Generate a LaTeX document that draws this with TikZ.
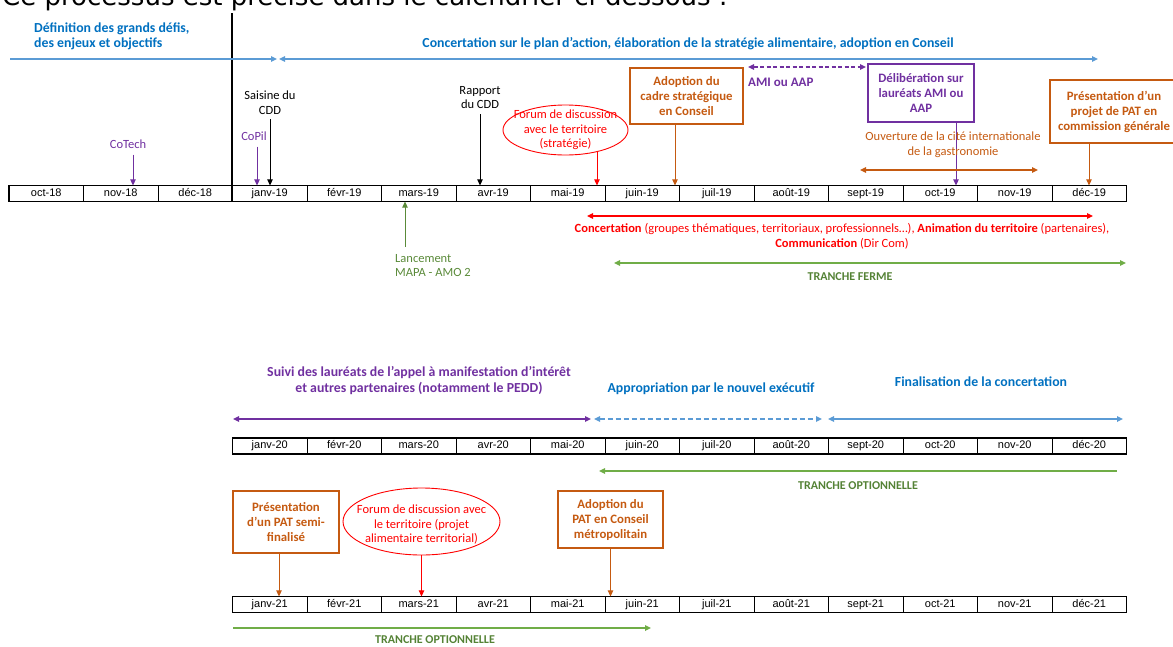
\documentclass[tikz,border=0pt]{standalone}
\usepackage{fontspec}
\setmainfont{Carlito}
\newfontfamily\arialfont{Liberation Sans}
\newfontfamily\verdanafont{DejaVu Sans}
\usetikzlibrary{arrows.meta,shapes.geometric}

\definecolor{titleblue}{RGB}{0,112,192}
\definecolor{lineblue}{RGB}{91,155,213}
\definecolor{patpurple}{RGB}{112,48,160}
\definecolor{patorange}{RGB}{197,90,17}
\definecolor{patgreen}{RGB}{112,173,71}
\definecolor{patgreentext}{RGB}{84,130,53}
\definecolor{patred}{RGB}{255,0,0}

\tikzset{
  month/.style={draw, line width=0.7pt, minimum width=74.5pt, minimum height=15.5pt,
    inner sep=0pt, text height=8pt, text depth=2.3pt, font=\arialfont\fontsize{11}{12}\selectfont},
  titletxt/.style={inner sep=0pt, align=center, text=titleblue,
    font=\bfseries\fontsize{13.8}{15.5}\selectfont},
  smalltxt/.style={inner sep=1pt, align=center, font=\fontsize{12.5}{14.5}\selectfont},
  tranche/.style={inner sep=0pt, text=patgreentext, font=\bfseries\fontsize{12}{13}\selectfont},
  stepbox/.style={draw, line width=1.4pt, inner sep=0pt, align=center,
    font=\bfseries\fontsize{12.8}{15}\selectfont},
  forum/.style={draw=patred, line width=0.9pt, ellipse, inner sep=0pt},
  eventarrow/.style={line width=0.9pt, ->},
  period/.style={line width=1.5pt},
}

\begin{document}
\begin{tikzpicture}[x=1pt,y=-1pt,>={Triangle[length=6pt,width=5.5pt]}]
\useasboundingbox (0,0) rectangle (1173,646);

% heading (cut at the top)
\node[anchor=base west, inner sep=0pt, font=\verdanafont\fontsize{26}{30}\selectfont] (heading) at (2,5)
  {Ce processus est précisé dans le calendrier ci-dessous :};

% ---------------- 2018-2019 ----------------
\foreach \m [count=\i] in {oct-18,nov-18,déc-18,janv-19,févr-19,mars-19,avr-19,mai-19,juin-19,juil-19,août-19,sept-19,oct-19,nov-19,déc-19}
  \node[month] (r1c\i) at ({9+74.5*(\i-0.5)},193.5) {\m};
\draw[line width=1.2pt] (r1c1.north west) rectangle (r1c15.south east);
\draw[line width=1.6pt] (r1c4.south west) -- ++(0,-189);  % start of the plan

\node[titletxt, anchor=west, align=left] (defi) at (34,36.5) {Définition des grands défis,\\des enjeux et objectifs};
\coordinate (defiA) at (10,59);
\coordinate (defiB) at (277,59);
\draw[period, lineblue, ->] (defiA) -- (defiB);

\node[titletxt] (concTitle) at (688,44) {Concertation sur le plan d'action, élaboration de la stratégie alimentaire, adoption en Conseil};
\coordinate (concA) at (279,59);
\coordinate (concB) at (1098,59);
\draw[period, lineblue, <->] (concA) -- (concB);

\coordinate (amiA) at (748,67);
\coordinate (amiB) at (866,67);
\draw[period, patpurple, dash pattern=on 4pt off 2.5pt, <->] (amiA) -- (amiB);
\node[anchor=west, inner sep=0pt, text=patpurple, font=\bfseries\fontsize{13}{14}\selectfont] (ami) at (748,82) {AMI ou AAP};

% events
\node[smalltxt, text=patpurple] (cotech) at (128,144) {CoTech};
\draw[eventarrow, patpurple, shorten <=5pt] ([xshift=5pt]cotech.south) -- ([xshift=5pt]cotech.south |- r1c2.north);

\node[smalltxt, text=patpurple] (copil) at (254,136) {CoPil};
\draw[eventarrow, patpurple, shorten <=5pt] ([xshift=3pt]copil.south) -- ([xshift=3pt]copil.south |- r1c4.north);

\node[smalltxt] (saisine) at (270,102.5) {Saisine du\\CDD};
\draw[eventarrow, shorten <=4pt] (saisine.south) -- (saisine.south |- r1c4.north);

\node[smalltxt] (rapport) at (480,97.5) {Rapport\\du CDD};
\draw[eventarrow, shorten <=4pt] (rapport.south) -- (rapport.south |- r1c7.north);

\node[forum, minimum width=125pt, minimum height=50pt] (forum1) at (565.5,130) {};
\node[smalltxt, text=patred] (forum1txt) at (forum1) {Forum de discussion\\avec le territoire\\(stratégie)};
\draw[eventarrow, patred] (forum1.-35) -- (forum1.-35 |- r1c8.north);

\node[stepbox, draw=patorange, text=patorange, minimum width=113pt, minimum height=56pt] (adopt1) at (686.5,96)
  {Adoption du\\cadre stratégique\\en Conseil};
\draw[eventarrow, patorange] ([xshift=-11.5pt]adopt1.south) -- ([xshift=-11.5pt]adopt1.south |- r1c9.north);

\node[stepbox, draw=patpurple, text=patpurple, minimum width=106pt, minimum height=58pt] (delib) at (921,93)
  {Délibération sur\\lauréats AMI ou\\AAP};
\draw[eventarrow, patpurple] ([xshift=35pt]delib.south) -- ([xshift=35pt]delib.south |- r1c13.north);

\node[smalltxt, text=patorange] (ouvert) at (953,144.5) {Ouverture de la cité internationale\\de la gastronomie};
\coordinate (ouvA) at (860,170);
\coordinate (ouvB) at (1038,170);
\draw[period, patorange, <->] (ouvA) -- (ouvB);

\node[stepbox, draw=patorange, text=patorange, minimum width=128pt, minimum height=63pt] (pres1) at (1114,111.5)
  {Présentation d'un\\projet de PAT en\\commission générale};
\draw[eventarrow, patorange] ([xshift=-25pt]pres1.south) -- ([xshift=-25pt]pres1.south |- r1c15.north);

\node[smalltxt, anchor=north west, align=left, text=patgreen!80!black] (lance) at (394,253) {Lancement\\MAPA - AMO 2};
\draw[eventarrow, patgreen!80!black] ([xshift=11pt,yshift=6pt]lance.north west) -- ([xshift=11pt]lance.north west |- r1c6.south);

\coordinate (concertA) at (587,216);
\coordinate (concertB) at (1093,216);
\draw[line width=1.1pt, patred, <->] (concertA) -- (concertB);
\node[smalltxt, text=patred] (concert) at (842,236.5)
  {\textbf{Concertation} (groupes thématiques, territoriaux, professionnels…), \textbf{Animation du territoire} (partenaires),\\\textbf{Communication} (Dir Com)};

\coordinate (fermeA) at (614,263);
\coordinate (fermeB) at (1126,263);
\draw[period, patgreen, <->] (fermeA) -- (fermeB);
\node[tranche] (ferme) at (850,277) {TRANCHE FERME};

% ---------------- 2020 ----------------
\foreach \m [count=\i] in {janv,févr,mars,avr,mai,juin,juil,août,sept,oct,nov,déc} {
  \node[month] (r2c\i) at ({232.5+74.5*(\i-0.5)},446) {\m-20};
  \node[month] (r3c\i) at ({232.5+74.5*(\i-0.5)},604.5) {\m-21};
}
\draw[line width=1.2pt] (r2c1.north west) rectangle (r2c12.south east);
\draw[line width=1.2pt] (r3c1.north west) rectangle (r3c12.south east);

\node[titletxt, text=patpurple] (suivi) at (419,380.5)
  {Suivi des lauréats de l'appel à manifestation d'intérêt\\et autres partenaires (notamment le PEDD)};
\coordinate (suiviA) at (233,419);
\coordinate (suiviB) at (591,419);
\draw[line width=1.8pt, patpurple, <->] (suiviA) -- (suiviB);

\node[titletxt] (approp) at (711,389) {Appropriation par le nouvel exécutif};
\coordinate (appropA) at (594,419);
\coordinate (appropB) at (822,419);
\draw[period, lineblue, dash pattern=on 5pt off 3pt, <->] (appropA) -- (appropB);

\node[titletxt] (final) at (981,382) {Finalisation de la concertation};
\coordinate (finalA) at (828,419);
\coordinate (finalB) at (1123,419);
\draw[period, lineblue, <->] (finalA) -- (finalB);

\coordinate (optA) at (599,471);
\coordinate (optB) at (1117,471);
\draw[period, patgreen, <-] (optA) -- (optB);
\node[tranche] (option1) at (858,486) {TRANCHE OPTIONNELLE};

% ---------------- 2021 ----------------
\node[stepbox, draw=patorange, text=patorange, minimum width=106pt, minimum height=62pt] (pres2) at (286,522)
  {Présentation\\d'un PAT semi-\\finalisé};
\draw[eventarrow, patorange] ([xshift=-7pt]pres2.south) -- ([xshift=-7pt]pres2.south |- r3c1.north);

\node[forum, minimum width=157pt, minimum height=67pt] (forum2) at (421.5,521.5) {};
\node[smalltxt, text=patred] (forum2txt) at (421.5,525) {Forum de discussion avec\\le territoire (projet\\alimentaire territorial)};
\draw[eventarrow, patred] (forum2.south) -- (forum2.south |- r3c3.north);

\node[stepbox, draw=patorange, text=patorange, minimum width=105pt, minimum height=57pt] (adopt2) at (610.5,519.5)
  {Adoption du\\PAT en Conseil\\métropolitain};
\draw[eventarrow, patorange] (adopt2.south) -- (adopt2.south |- r3c6.north);

\coordinate (opt2A) at (233,628);
\coordinate (opt2B) at (651,628);
\draw[period, patgreen, ->] (opt2A) -- (opt2B);
\node[tranche] (option2) at (435,640) {TRANCHE OPTIONNELLE};

\end{tikzpicture}
\end{document}
